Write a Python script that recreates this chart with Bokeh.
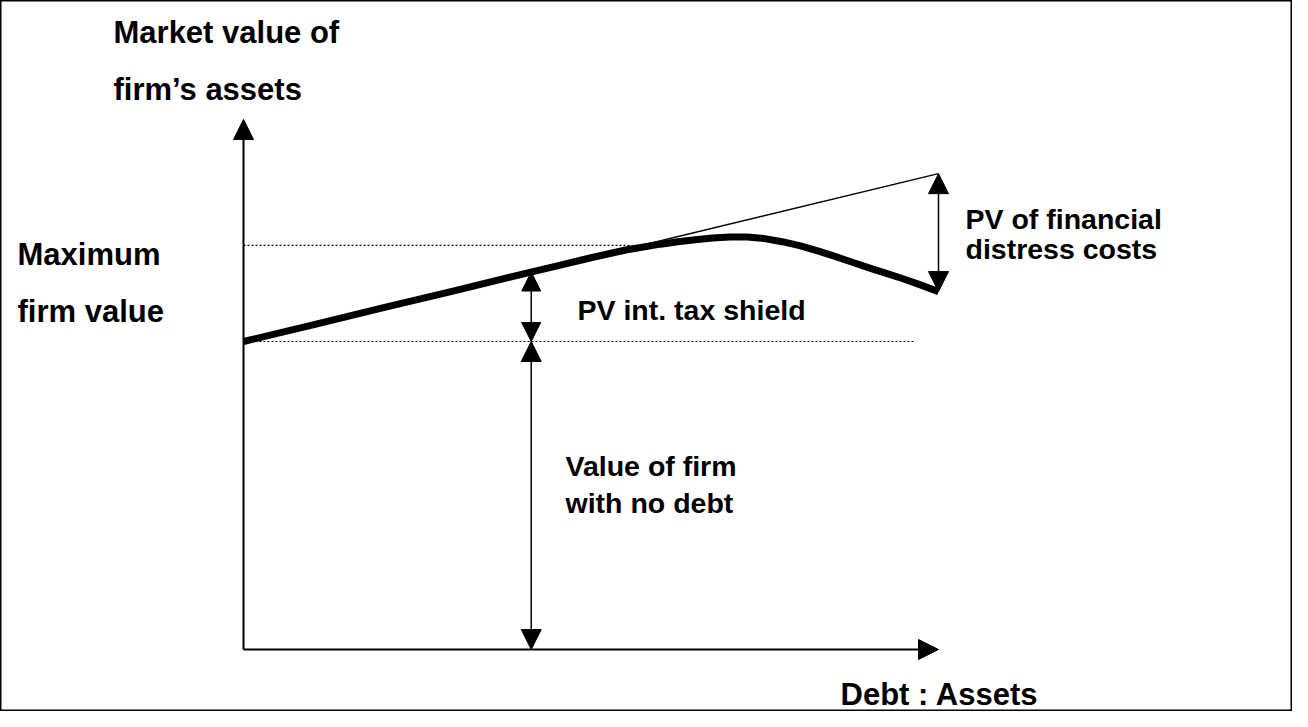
import numpy as np
from bokeh.plotting import figure
from bokeh.models import Range1d, Arrow, NormalHead, Label
from bokeh.embed import file_html
from bokeh.resources import INLINE

# ---- data (conceptual units: debt ratio 0..1, firm value with unlevered value = 100) ----
debt_ratio = [0.0, 0.1, 0.2, 0.3, 0.4, 0.45, 0.5, 0.55, 0.6, 0.625, 0.65, 0.675, 0.7, 0.725,
              0.75, 0.775, 0.8, 0.825, 0.85, 0.875, 0.9, 0.925, 0.95, 0.975, 1.0]
firm_value = [100.0, 105.4, 110.9, 116.3, 121.8, 124.5, 127.2, 129.7, 131.6, 132.4, 133.05, 133.6,
              133.95, 133.9, 133.4, 132.4, 131.1, 129.5, 127.7, 125.8, 123.9, 122.1, 120.3, 118.3, 116.2]
tax_line_debt = [0.0, 1.0]
tax_line_value = [100.0, 154.5]
unlevered_value = 100.0
unlevered_line_end = 0.965
max_value = 131.2
max_line_end = 0.56
shield_debt = 0.414
axis_y_top = 172.1
axis_x_end = 1.0

# ---- layout ----
W, H = 1292, 711
PX_PER_DEBT = 695.0
PX_PER_VAL = 3.08
ORIGIN_X = 251 - 8   # pixel of debt 0 inside canvas
ORIGIN_Y = 657 - 8   # pixel of value 0 inside canvas (from top)

x0 = -ORIGIN_X / PX_PER_DEBT
y1 = ORIGIN_Y / PX_PER_VAL
p = figure(width=W, height=H,
           x_range=Range1d(x0, x0 + W / PX_PER_DEBT),
           y_range=Range1d(y1 - H / PX_PER_VAL, y1),
           output_backend="svg", toolbar_location=None, min_border=0,
           x_axis_type=None, y_axis_type=None)
p.grid.visible = False
p.outline_line_color = "black"
p.outline_line_width = 2
p.background_fill_color = "white"
p.border_fill_color = "white"


def dx(px):
    return (px - 251) / PX_PER_DEBT


def vy(py):
    return (657 - py) / PX_PER_VAL


# reference lines
p.line([0, unlevered_line_end], [unlevered_value, unlevered_value], line_color="black",
       line_width=1.2, line_dash="2 2")
p.line([0, max_line_end], [max_value, max_value], line_color="black",
       line_width=1.2, line_dash="2 2")

# tax-shield line and firm value curve
p.line(tax_line_debt, tax_line_value, line_color="black", line_width=1.5)
p.line(debt_ratio, firm_value, line_color="black", line_width=7, line_join="round")


def head(size=20):
    return NormalHead(size=size, fill_color="black", line_color="black", line_width=1)


# axes with arrowheads
p.add_layout(Arrow(end=head(), x_start=0, y_start=0, x_end=0, y_end=axis_y_top,
                   line_color="black", line_width=2))
p.add_layout(Arrow(end=head(), x_start=0, y_start=0, x_end=axis_x_end, y_end=0,
                   line_color="black", line_width=2))

# double-headed dimension arrows
curve_at_shield = float(np.interp(shield_debt, debt_ratio, firm_value))
p.add_layout(Arrow(start=head(), end=head(), x_start=shield_debt, y_start=0,
                   x_end=shield_debt, y_end=unlevered_value, line_color="black", line_width=1.5))
p.add_layout(Arrow(start=head(19), end=head(19), x_start=shield_debt, y_start=unlevered_value,
                   x_end=shield_debt, y_end=curve_at_shield, line_color="black", line_width=1.5))
p.add_layout(Arrow(start=head(), end=head(), x_start=debt_ratio[-1], y_start=firm_value[-1],
                   x_end=tax_line_debt[-1], y_end=tax_line_value[-1], line_color="black", line_width=1.5))

labels = [
    ("Market value of", 121, 40, "31px"),
    ("firm\u2019s assets", 121, 97, "31px"),
    ("Maximum", 25, 262, "31px"),
    ("firm value", 25, 319, "31px"),
    ("PV int. tax shield", 585, 317, "28.5px"),
    ("Value of firm", 573, 473, "28.5px"),
    ("with no debt", 573, 510, "28.5px"),
    ("PV of financial", 973, 226, "28.5px"),
    ("distress costs", 973, 256, "28.5px"),
    ("Debt : Assets", 848, 702, "31px"),
]
for txt, px, py, fs in labels:
    p.add_layout(Label(x=dx(px), y=vy(py), text=txt, text_font="Liberation Sans",
                       text_font_style="bold", text_font_size=fs, text_color="black",
                       text_baseline="alphabetic", text_align="left"))

open("out.html", "w").write(file_html(p, INLINE))
